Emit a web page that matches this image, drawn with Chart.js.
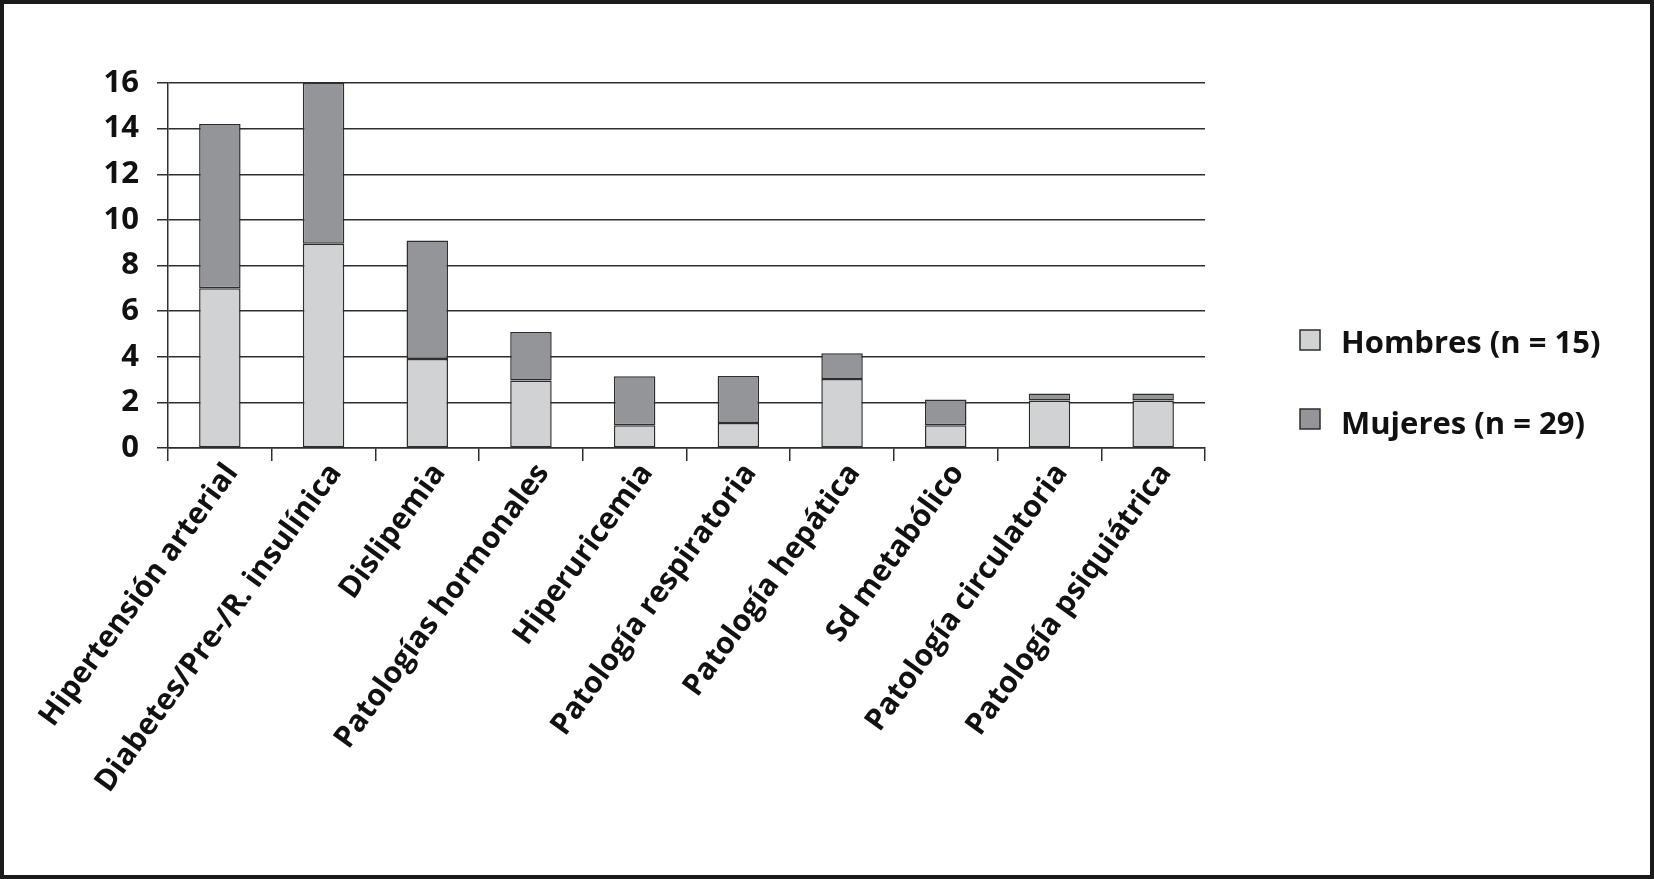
<!DOCTYPE html>
<html lang="es">
<head>
<meta charset="UTF-8" />
<title>Comorbilidades por sexo</title>
<script src="https://cdn.jsdelivr.net/npm/chart.js"></script>
<style>
  html, body { margin: 0; padding: 0; background: #fff; }
  #marco {
    position: absolute; left: 0; top: 0; width: 1654px; height: 879px;
    border: 4px solid #1a1a1a; box-sizing: border-box; background: #fff;
  }
  canvas { display: block; }
</style>
</head>
<body>

<div id="marco">
  <canvas id="grafico" width="1646" height="871"></canvas>
</div>

<script>
  const categorias = [
    'Hipertensión arterial',
    'Diabetes/Pre-/R. insulínica',
    'Dislipemia',
    'Patologías hormonales',
    'Hiperuricemia',
    'Patología respiratoria',
    'Patología hepática',
    'Sd metabólico',
    'Patología circulatoria',
    'Patología psiquiátrica'
  ];
  const hombres = [7, 8.95, 3.9, 2.96, 1.0, 1.1, 3.03, 1.0, 2.08, 2.08];
  const mujeres = [7.2, 7.05, 5.2, 2.13, 2.15, 2.06, 1.12, 1.13, 0.31, 0.31];
  const etiquetasSerie = ['Hombres (n = 15)', 'Mujeres (n = 29)'];
  const ticksY = [0, 2, 4, 6, 8, 10, 12, 14, 16];

  const fuente = "'Open Sans', 'DejaVu Sans', sans-serif";
  const oscuro = '#2e2e2e';

  // leyenda a la derecha, dibujada a mano
  const leyendaLateral = {
    id: 'leyendaLateral',
    afterDraw(chart) {
      const ctx = chart.ctx;
      const cajas = [336, 415];
      const textos = [340, 421];
      ctx.save();
      chart.data.datasets.forEach((ds, i) => {
        ctx.fillStyle = ds.backgroundColor;
        ctx.strokeStyle = oscuro;
        ctx.lineWidth = 1.5;
        ctx.fillRect(1296, cajas[i] - 10, 20, 20);
        ctx.strokeRect(1296, cajas[i] - 10, 20, 20);
        ctx.fillStyle = '#111';
        ctx.font = `bold 31px ${fuente}`;
        ctx.textBaseline = 'middle';
        ctx.textAlign = 'left';
        ctx.fillText(ds.label, 1337, textos[i]);
      });
      ctx.restore();
    }
  };

  new Chart(document.getElementById('grafico').getContext('2d'), {
    type: 'bar',
    data: {
      labels: categorias,
      datasets: [
        {
          label: etiquetasSerie[0],
          data: hombres,
          backgroundColor: '#d1d2d4',
          borderColor: oscuro,
          borderWidth: 1.5,
          borderSkipped: false
        },
        {
          label: etiquetasSerie[1],
          data: mujeres,
          backgroundColor: '#939598',
          borderColor: oscuro,
          borderWidth: 1.5,
          borderSkipped: false
        }
      ]
    },
    options: {
      responsive: false,
      animation: false,
      devicePixelRatio: 1,
      layout: { padding: { top: 79, right: 445, left: 0, bottom: 0 } },
      datasets: { bar: { categoryPercentage: 1, barPercentage: 0.4 } },
      plugins: {
        legend: { display: false },
        tooltip: { enabled: false }
      },
      scales: {
        x: {
          stacked: true,
          grid: {
            offset: true,
            drawOnChartArea: true,
            color: c => c.index === categorias.length ? oscuro : 'rgba(0,0,0,0)',
            tickColor: oscuro,
            lineWidth: 1.5,
            tickLength: 13
          },
          border: { color: oscuro, width: 1.5 },
          ticks: {
            minRotation: 54,
            maxRotation: 54,
            autoSkip: false,
            padding: -4,
            labelOffset: 12,
            color: '#111',
            font: { family: fuente, size: 30, weight: 'bold' }
          },
          afterFit(scale) { scale.height = 427; }
        },
        y: {
          stacked: true,
          min: 0,
          max: 16,
          afterBuildTicks(scale) { scale.ticks = ticksY.map(v => ({ value: v })); },
          grid: { color: oscuro, lineWidth: 1.5, tickLength: 11 },
          border: { color: oscuro, width: 1.5 },
          ticks: {
            padding: 18,
            color: '#111',
            font: { family: fuente, size: 31, weight: 'bold' }
          },
          afterFit(scale) { scale.width = 164; }
        }
      }
    },
    plugins: [leyendaLateral]
  });
</script>

</body>
</html>
